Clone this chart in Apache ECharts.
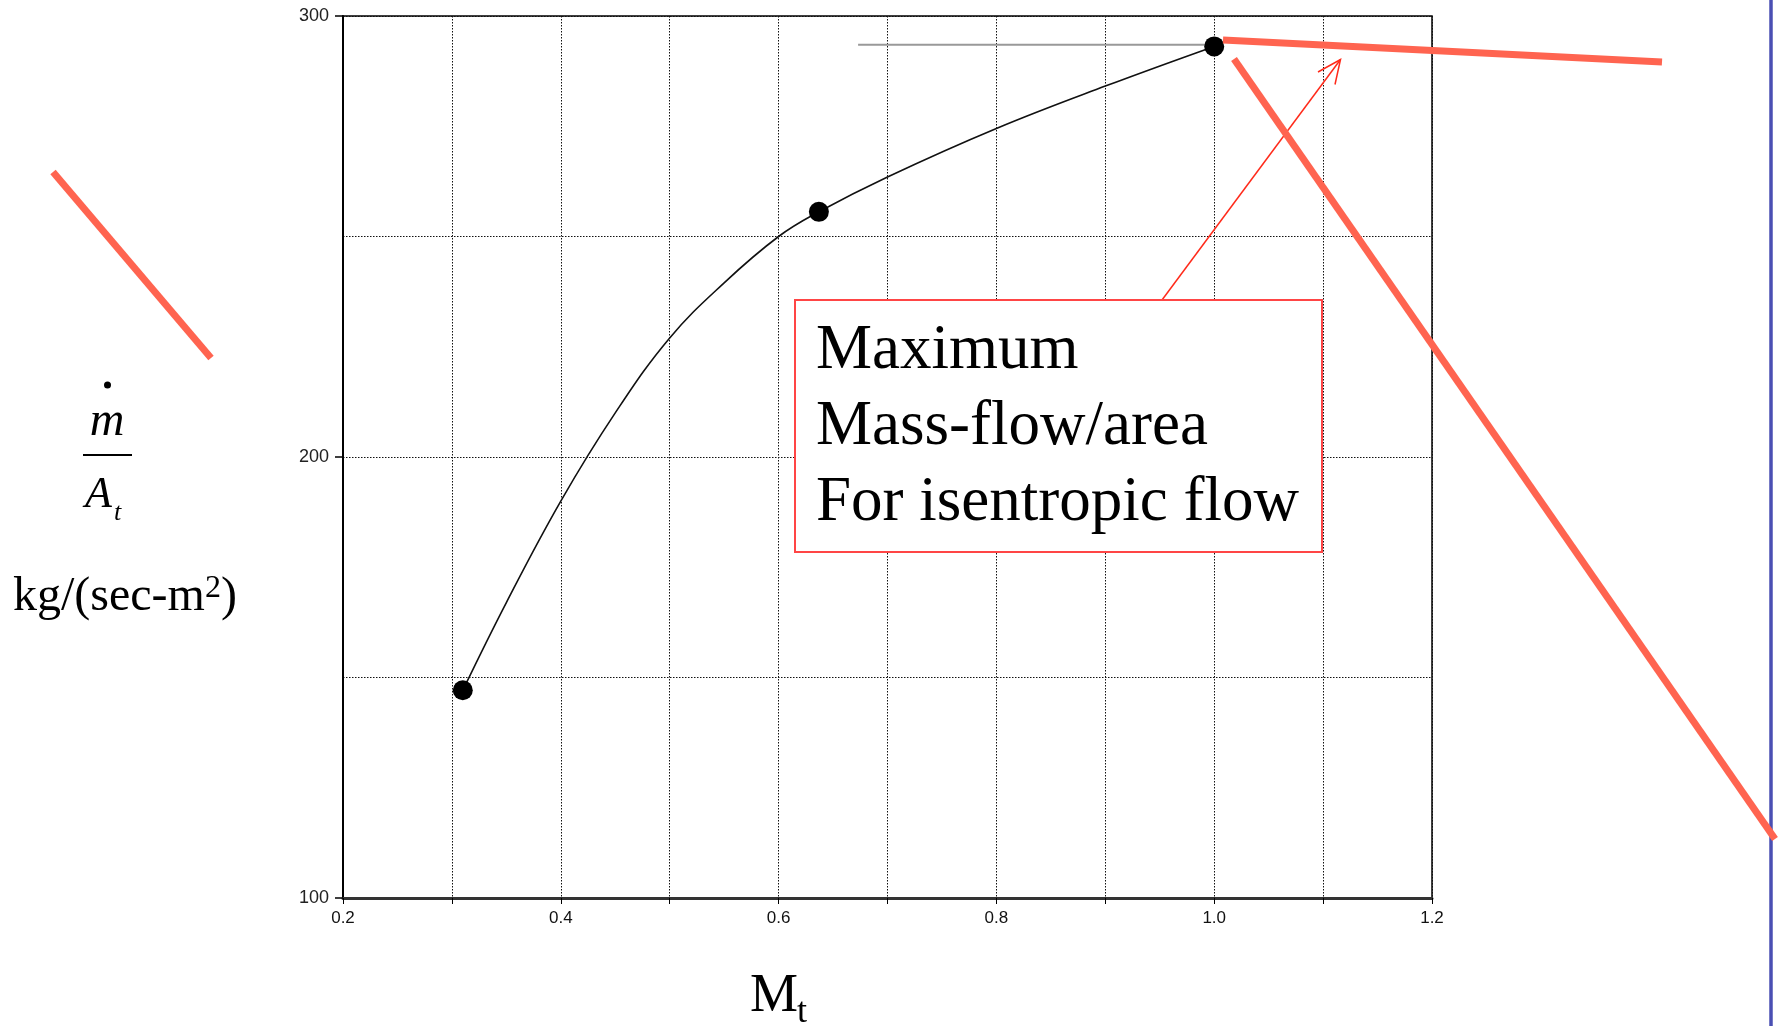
<!DOCTYPE html>
<html>
<head>
<meta charset="utf-8">
<script src="https://cdn.jsdelivr.net/npm/echarts@6/dist/echarts.min.js"></script>
<style>
html,body{margin:0;padding:0;background:#fff;}
#chart{width:1783px;height:1026px;}
</style>
</head>
<body>
<div id="chart"></div>
<script>
// Mach number at throat (x) and mass flow per area (y)
const curveX = [0.31, 0.35, 0.40, 0.45, 0.50, 0.55, 0.60, 0.637, 0.70, 0.80, 0.90, 1.0];
const curveY = [147.1, 167.0, 190.0, 210.0, 227.0, 239.5, 250.0, 255.6, 263.5, 274.5, 284.1, 293.1];
const pointX = [0.31, 0.637, 1.0];
const pointY = [147.1, 255.6, 293.1];
const refLineX = [0.673, 1.0];
const refLineY = [293.5, 293.5];
const boxLines = ['Maximum', 'Mass-flow/area', 'For isentropic flow'];

const chart = echarts.init(document.getElementById('chart'));
const RED = '#FF6450';
const serif = '"Liberation Serif", "Times New Roman", serif';
const sans = '"Liberation Sans", Arial, sans-serif';

const option = {
  backgroundColor: '#fff',
  animation: false,
  grid: { left: 343, right: 351, top: 16, bottom: 128, show: true, borderColor: '#000', borderWidth: 1.5, backgroundColor: 'transparent' },
  xAxis: [{
    type: 'value', min: 0.2, max: 1.2, interval: 0.1,
    axisLine: { show: true, onZero: false, lineStyle: { color: '#333', width: 3 } },
    axisTick: { show: true, length: 6, lineStyle: { color: '#000', width: 1 } },
    axisLabel: { show: true, fontSize: 17, fontFamily: sans, color: '#111', margin: 12,
      formatter: v => (Math.round(v * 10) % 2 === 0 ? v.toFixed(1) : '') },
    splitLine: { show: true, lineStyle: { color: '#111', width: 1, type: [1.5, 1.5] } }
  }],
  yAxis: [{
    type: 'value', min: 100, max: 300, interval: 50,
    axisLine: { show: true, lineStyle: { color: '#000', width: 2 } },
    axisTick: { show: false }, axisLabel: { show: false },
    splitLine: { show: true, lineStyle: { color: '#111', width: 1, type: [1.5, 1.5] } }
  }, {
    type: 'value', min: 100, max: 300, interval: 100, position: 'left',
    axisLine: { show: false },
    axisTick: { show: true, length: 8, lineStyle: { color: '#000', width: 1.5 } },
    axisLabel: { show: true, fontSize: 18, fontFamily: sans, color: '#222', margin: 14 },
    splitLine: { show: false }
  }],
  series: [{
    type: 'line', xAxisIndex: 0, yAxisIndex: 0,
    data: refLineX.map((x, i) => [x, refLineY[i]]),
    symbol: 'none', lineStyle: { color: '#999', width: 2 }, z: 2
  }, {
    type: 'line', xAxisIndex: 0, yAxisIndex: 0,
    data: curveX.map((x, i) => [x, curveY[i]]),
    smooth: 0.4, symbol: 'none', lineStyle: { color: '#111', width: 1.6 }, z: 3
  }, {
    type: 'scatter', xAxisIndex: 0, yAxisIndex: 0,
    data: pointX.map((x, i) => [x, pointY[i]]),
    symbol: 'circle', symbolSize: 20, itemStyle: { color: '#000', opacity: 1 }, z: 4
  }],
  graphic: [
    // right slide edge
    { type: 'line', shape: { x1: 1771, y1: 0, x2: 1771, y2: 1026 }, style: { stroke: '#4A4FB3', lineWidth: 3.5 }, z: 10 },
    // annotation box
    { type: 'rect', shape: { x: 795, y: 300, width: 527, height: 252 }, style: { fill: '#fff', stroke: '#FF4545', lineWidth: 2 }, z: 20 },
    { type: 'text', x: 816, y: 351, z: 21, style: { text: boxLines[0], font: '63px ' + serif, fill: '#000', verticalAlign: 'middle' } },
    { type: 'text', x: 816, y: 427.5, z: 21, style: { text: boxLines[1], font: '63px ' + serif, fill: '#000', verticalAlign: 'middle' } },
    { type: 'text', x: 816, y: 503.5, z: 21, style: { text: boxLines[2], font: '63px ' + serif, fill: '#000', verticalAlign: 'middle' } },
    // thin arrow
    { type: 'line', shape: { x1: 1162, y1: 300, x2: 1340.5, y2: 59.5 }, style: { stroke: '#FF2A1A', lineWidth: 1.5 }, z: 19 },
    { type: 'polyline', shape: { points: [[1318, 72], [1340.5, 59.5], [1335, 84.5]] }, style: { stroke: '#FF2A1A', lineWidth: 1.5, fill: null }, z: 19 },
    // thick red strokes
    { type: 'line', shape: { x1: 1223, y1: 40, x2: 1662, y2: 62 }, style: { stroke: RED, lineWidth: 7 }, z: 30 },
    { type: 'line', shape: { x1: 1234, y1: 59, x2: 1775, y2: 839 }, style: { stroke: RED, lineWidth: 7 }, z: 30 },
    { type: 'line', shape: { x1: 53, y1: 172, x2: 211, y2: 358 }, style: { stroke: RED, lineWidth: 7 }, z: 30 },
    // y-axis title: m-dot / A_t
    { type: 'circle', shape: { cx: 107.5, cy: 385, r: 3.5 }, style: { fill: '#000' }, z: 10 },
    { type: 'text', x: 107, y: 446, z: 10, style: { text: 'm', font: 'italic 48px ' + serif, fill: '#000', align: 'center', verticalAlign: 'bottom' } },
    { type: 'line', shape: { x1: 83, y1: 455, x2: 132, y2: 455 }, style: { stroke: '#000', lineWidth: 2 }, z: 10 },
    { type: 'text', x: 85, y: 517, z: 10, style: { text: 'A', font: 'italic 44px ' + serif, fill: '#000', verticalAlign: 'bottom' } },
    { type: 'text', x: 114, y: 526, z: 10, style: { text: 't', font: 'italic 26px ' + serif, fill: '#000', verticalAlign: 'bottom' } },
    { type: 'text', x: 13, y: 597, z: 10, style: {
        text: '{n|kg/(sec-m}{s|2}{n|)}', fill: '#000', verticalAlign: 'middle',
        rich: { n: { font: '48px ' + serif, fill: '#000' }, s: { font: '32px ' + serif, fill: '#000', verticalAlign: 'top' } } } },
    // x-axis title: M_t
    { type: 'text', x: 750, y: 997, z: 10, style: { text: 'M', font: '54px ' + serif, fill: '#000', verticalAlign: 'middle' } },
    { type: 'text', x: 797, y: 1013, z: 10, style: { text: 't', font: '36px ' + serif, fill: '#000', verticalAlign: 'middle' } }
  ]
};
chart.setOption(option);
</script>
</body>
</html>
